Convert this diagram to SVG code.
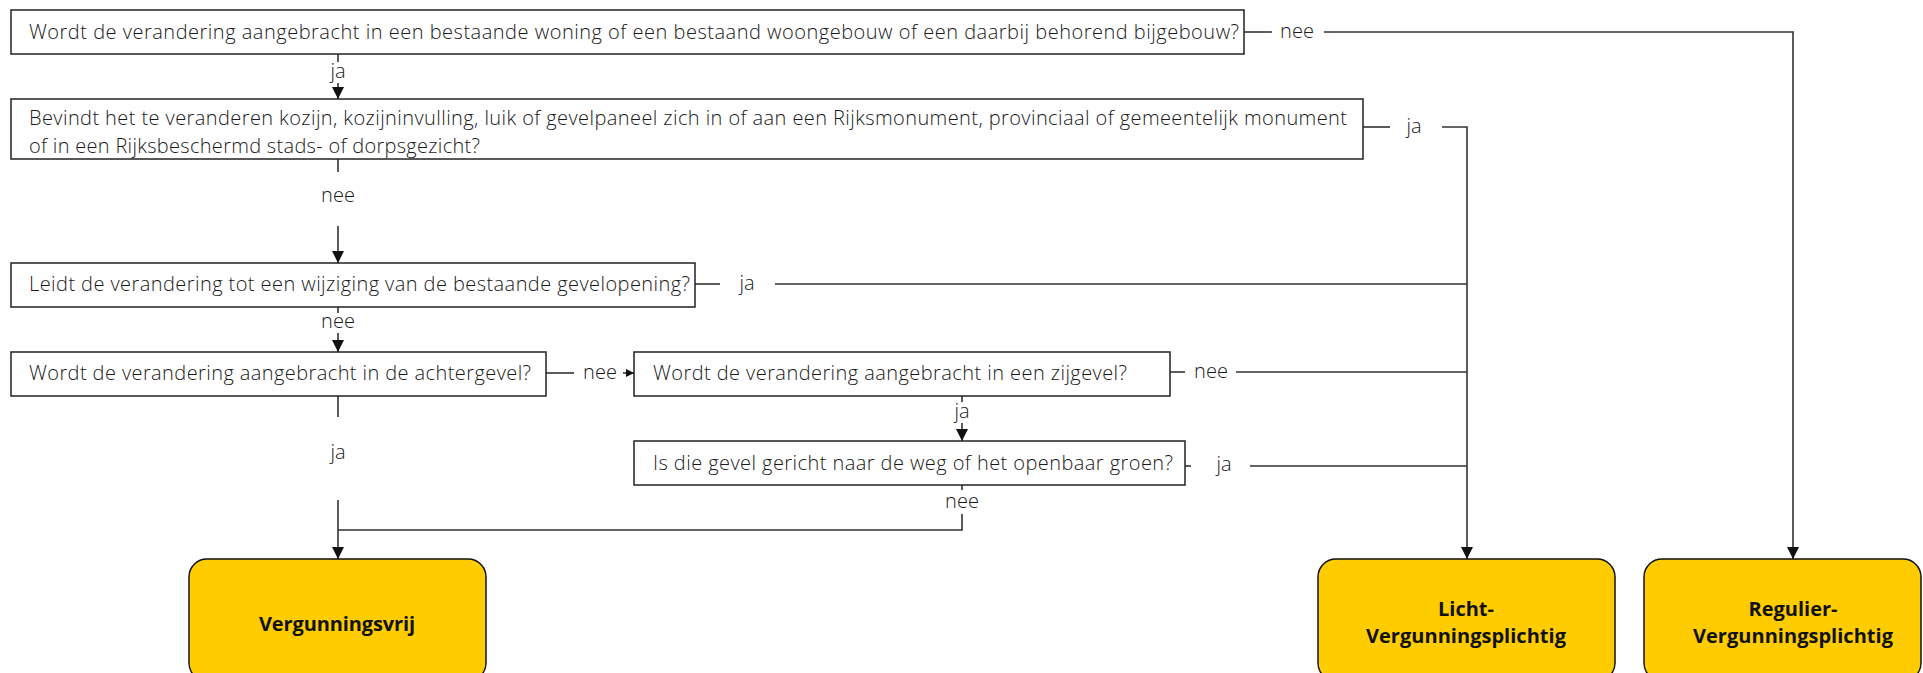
<svg xmlns="http://www.w3.org/2000/svg" width="1923" height="673" viewBox="0 0 1923 673">
<style>
  .q { fill: #ffffff; stroke: #222; stroke-width: 1.5; }
  .r { fill: #ffcc00; stroke: #111; stroke-width: 1.5; }
  .t { font-family: "Open Sans", "Liberation Sans", sans-serif; font-size: 20px; font-weight: 300; fill: #1a1a1a; }
  .l { font-family: "Open Sans", "Liberation Sans", sans-serif; font-size: 20px; font-weight: 300; fill: #1a1a1a; text-anchor: middle; }
  .b { font-family: "Open Sans", "Liberation Sans", sans-serif; font-size: 20px; font-weight: bold; fill: #111; text-anchor: middle; }
  .c { fill: none; stroke: #333; stroke-width: 1.6; }
</style>
<defs>
  <marker id="ah" markerUnits="userSpaceOnUse" markerWidth="12" markerHeight="12" viewBox="0 0 12 12" refX="12" refY="6" orient="auto">
    <path d="M0,0 L12,6 L0,12 Z" fill="#111"/>
  </marker>
  <marker id="as" markerUnits="userSpaceOnUse" markerWidth="8" markerHeight="8" viewBox="0 0 8 8" refX="8" refY="4" orient="auto">
    <path d="M0,0 L8,4 L0,8 Z" fill="#111"/>
  </marker>
</defs>
<rect width="1923" height="673" fill="#ffffff"/>

<g id="connectors">
  <path class="c" d="M338,54 V62"/>
  <path class="c" d="M338,83 V99" marker-end="url(#ah)"/>
  <path class="c" d="M1244,32 H1272"/>
  <path class="c" d="M1324,32 H1793 V559" marker-end="url(#ah)"/>
  <path class="c" d="M338,159 V172"/>
  <path class="c" d="M338,226 V263" marker-end="url(#ah)"/>
  <path class="c" d="M1363,127 H1390"/>
  <path class="c" d="M1442,127 H1467 V559" marker-end="url(#ah)"/>
  <path class="c" d="M695,284 H720"/>
  <path class="c" d="M775,284 H1467"/>
  <path class="c" d="M338,307 V313"/>
  <path class="c" d="M338,333 V352" marker-end="url(#ah)"/>
  <path class="c" d="M546,373 H574"/>
  <path class="c" d="M623,373 H634" marker-end="url(#as)"/>
  <path class="c" d="M338,396 V417"/>
  <path class="c" d="M338,500 V559" marker-end="url(#ah)"/>
  <path class="c" d="M1170,372 H1185"/>
  <path class="c" d="M1236,372 H1467"/>
  <path class="c" d="M962,396 V402"/>
  <path class="c" d="M962,423 V441" marker-end="url(#ah)"/>
  <path class="c" d="M1185,466 H1191"/>
  <path class="c" d="M1250,466 H1467"/>
  <path class="c" d="M962,485 V490"/>
  <path class="c" d="M962,514 V530 H338"/>
  <text class="l" x="338" y="78">ja</text>
  <text class="l" x="1297" y="38">nee</text>
  <text class="l" x="338" y="202">nee</text>
  <text class="l" x="1414" y="133">ja</text>
  <text class="l" x="747" y="290">ja</text>
  <text class="l" x="338" y="328">nee</text>
  <text class="l" x="600" y="379">nee</text>
  <text class="l" x="338" y="459">ja</text>
  <text class="l" x="1211" y="378">nee</text>
  <text class="l" x="962" y="418">ja</text>
  <text class="l" x="1224" y="471">ja</text>
  <text class="l" x="962" y="508">nee</text>
</g>

<g id="q1">
  <rect class="q" x="11" y="10" width="1233" height="44"/>
  <text class="t" x="29" y="39" textLength="1210">Wordt de verandering aangebracht in een bestaande woning of een bestaand woongebouw of een daarbij behorend bijgebouw?</text>
</g>
<g id="q2">
  <rect class="q" x="11" y="99" width="1352" height="60"/>
  <text class="t" x="29" y="125" textLength="1318">Bevindt het te veranderen kozijn, kozijninvulling, luik of gevelpaneel zich in of aan een Rijksmonument, provinciaal of gemeentelijk monument</text>
  <text class="t" x="29" y="153" textLength="451">of in een Rijksbeschermd stads- of dorpsgezicht?</text>
</g>
<g id="q3">
  <rect class="q" x="11" y="263" width="684" height="44"/>
  <text class="t" x="29" y="291" textLength="661">Leidt de verandering tot een wijziging van de bestaande gevelopening?</text>
</g>
<g id="q4">
  <rect class="q" x="11" y="352" width="535" height="44"/>
  <text class="t" x="29" y="380" textLength="502">Wordt de verandering aangebracht in de achtergevel?</text>
</g>
<g id="q5">
  <rect class="q" x="634" y="352" width="536" height="44"/>
  <text class="t" x="653" y="380" textLength="474">Wordt de verandering aangebracht in een zijgevel?</text>
</g>
<g id="q6">
  <rect class="q" x="634" y="441" width="551" height="44"/>
  <text class="t" x="653" y="470" textLength="520">Is die gevel gericht naar de weg of het openbaar groen?</text>
</g>
<g id="res-vrij">
  <rect class="r" x="189" y="559" width="297" height="122" rx="18" ry="18"/>
  <text class="b" x="337" y="631" textLength="156">Vergunningsvrij</text>
</g>
<g id="res-licht">
  <rect class="r" x="1318" y="559" width="297" height="122" rx="18" ry="18"/>
  <text class="b" x="1466" y="616">Licht-</text>
  <text class="b" x="1466" y="643" textLength="200">Vergunningsplichtig</text>
</g>
<g id="res-regulier">
  <rect class="r" x="1644" y="559" width="277" height="122" rx="18" ry="18"/>
  <text class="b" x="1793" y="616">Regulier-</text>
  <text class="b" x="1793" y="643" textLength="200">Vergunningsplichtig</text>
</g>
</svg>
